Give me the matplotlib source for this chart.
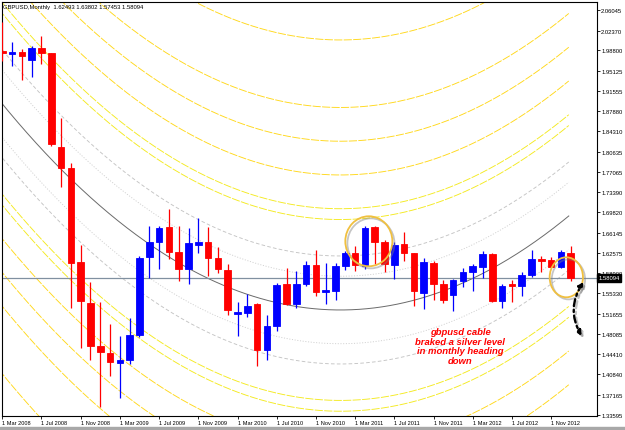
import numpy as np
import pandas as pd
import matplotlib
matplotlib.use('Agg')
import matplotlib.pyplot as plt
import matplotlib.patheffects as pe
from matplotlib.patches import Ellipse, Rectangle

plt.rcParams['font.family'] = ['Liberation Sans', 'DejaVu Sans']

# GBPUSD monthly candles, Mar 2008 .. Jan 2013
months = pd.date_range('2008-03-01', '2013-01-01', freq='MS')
opens = [1.9865, 1.9822, 1.9858, 1.9715, 1.9919, 1.9829, 1.8157, 1.7776, 1.6098, 1.5364,
         1.4594, 1.4458, 1.4290, 1.4344, 1.4791, 1.6177, 1.6446, 1.6714, 1.6272, 1.5973,
         1.6403, 1.6456, 1.6165, 1.5955, 1.5162, 1.5175, 1.5336, 1.4523, 1.4942, 1.5704,
         1.5336, 1.5704, 1.6039, 1.5561, 1.5568, 1.6016, 1.6254, 1.6027, 1.6714, 1.6446,
         1.6045, 1.6415, 1.6254, 1.5533, 1.6075, 1.5699, 1.5502, 1.5758, 1.5919, 1.6009,
         1.6236, 1.5400, 1.5694, 1.5669, 1.5860, 1.6147, 1.6129, 1.5998, 1.62493]
highs = [2.0384, 2.0026, 1.9906, 1.9955, 2.0144, 1.9840, 1.8666, 1.7865, 1.6397, 1.5729,
         1.5371, 1.4983, 1.4773, 1.5085, 1.6195, 1.6743, 1.6732, 1.7042, 1.6743, 1.6696,
         1.6881, 1.6714, 1.6356, 1.6057, 1.5382, 1.5520, 1.5350, 1.5144, 1.5717, 1.5980,
         1.5926, 1.6116, 1.6308, 1.6075, 1.6075, 1.6295, 1.6385, 1.6743, 1.6743, 1.6487,
         1.6456, 1.6625, 1.6260, 1.6165, 1.6116, 1.5776, 1.5789, 1.5986, 1.6057, 1.6295,
         1.6260, 1.5699, 1.5771, 1.5919, 1.6313, 1.6206, 1.6177, 1.6308, 1.63802]
lows = [1.9697, 1.9597, 1.9351, 1.9400, 1.9638, 1.8164, 1.7430, 1.5264, 1.4548, 1.4344,
        1.3492, 1.4047, 1.3653, 1.4267, 1.4745, 1.5801, 1.5968, 1.6147, 1.5758, 1.5699,
        1.6249, 1.5848, 1.5891, 1.5144, 1.4773, 1.5103, 1.4236, 1.4338, 1.4863, 1.5323,
        1.5275, 1.5669, 1.5479, 1.5341, 1.5413, 1.5955, 1.5937, 1.5968, 1.6057, 1.5909,
        1.5789, 1.6106, 1.5311, 1.5252, 1.5418, 1.5359, 1.5221, 1.5640, 1.5579, 1.5801,
        1.5370, 1.5264, 1.5382, 1.5479, 1.5819, 1.5919, 1.5998, 1.5980, 1.57453]
closes = [1.9829, 1.9847, 1.9786, 1.9919, 1.9829, 1.8206, 1.7770, 1.6070, 1.5400, 1.4594,
          1.4487, 1.4308, 1.4338, 1.4791, 1.6165, 1.6446, 1.6702, 1.6277, 1.5973, 1.6438,
          1.6446, 1.6159, 1.5968, 1.5239, 1.5192, 1.5311, 1.4523, 1.4953, 1.5681, 1.5336,
          1.5704, 1.6039, 1.5550, 1.5592, 1.6016, 1.6254, 1.6039, 1.6696, 1.6446, 1.6057,
          1.6403, 1.6249, 1.5579, 1.6098, 1.5699, 1.5418, 1.5771, 1.5909, 1.6016, 1.6236,
          1.5400, 1.5658, 1.5669, 1.5866, 1.6147, 1.6116, 1.6009, 1.6267, 1.58094]

price_ticks = [2.06045, 2.02370, 1.98800, 1.95125, 1.91555, 1.87880, 1.84310, 1.80635,
               1.77065, 1.73390, 1.69820, 1.66145, 1.62575, 1.58900, 1.55330, 1.51655,
               1.48085, 1.44410, 1.40840, 1.37165, 1.33595]
date_tick_idx = list(range(0, 57, 4))
date_tick_labels = [f"1 {months[i]:%b %Y}" for i in date_tick_idx]

# Fibonacci-style arcs: base level and multiples of a unit, shared vertex
arc_base = 1.5234
arc_unit = 0.2417
arc_mults = [0.25, 0.4, 0.67, 0.75, 1.0, 1.25, 1.5, 2.0]
arc_vertex = 34.5
arc_curv = 0.00031
arc_end = 57.8

title = "GBPUSD,Monthly  1.62493 1.63802 1.57453 1.58094"
note = "gbpusd cable\nbraked a silver level\nin monthly heading\ndown"

W, H = 625, 431
fig = plt.figure(figsize=(W / 100, H / 100), dpi=100)
ax = fig.add_axes([1.7 / W, (H - 417) / H, (597 - 1.7) / W, (417 - 3) / H])
ax.set_xlim(-0.06, 60.68)
ax.set_ylim(1.33358, 2.07477)

# arcs
t = np.linspace(-4, arc_end, 400)
arc_style = {
    0.25: dict(color='#cfcfcf', dashes=(1.2, 1.8)),
    0.4: dict(color='#c4c4c4', dashes=(4, 2.5)),
    0.67: dict(color='#f4ea20', dashes=(9, 1.5)),
    0.75: dict(color='#f4ea20', dashes=(9, 1.5)),
}
for m in arc_mults:
    st = arc_style.get(m, dict(color='#ffd81a', dashes=(9, 1.5)))
    for sign in (1, -1):
        level = arc_base + sign * m * arc_unit
        ax.plot(t, level + arc_curv * (t - arc_vertex) ** 2, lw=0.65, zorder=1, **st)
ax.plot(t, arc_base + arc_curv * (t - arc_vertex) ** 2, color='#6a6a6a', lw=0.7, zorder=1)

# last price line
ax.axhline(closes[-1], color='#8090a0', lw=0.9, zorder=2)

# candles
x = np.arange(len(opens))
o = np.array(opens)
c = np.array(closes)
cols = np.where(c >= o, '#0000ff', '#ff0000')
ax.vlines(x, lows, highs, colors=cols, lw=0.9, zorder=3)
ax.bar(x, c - o, bottom=o, width=0.66, color=cols, edgecolor=cols, linewidth=0.6, zorder=4)

# annotations
shadow = [pe.SimpleLineShadow(offset=(1.5, -1.5), shadow_color='#808080', alpha=0.45), pe.Normal()]
e1 = Ellipse((37.4, 1.6464), 4.8, 0.0895, fill=False, edgecolor='#f0c040', lw=1.3, zorder=6)
e1.set_path_effects(shadow)
ax.add_patch(e1)
e2 = Ellipse((57.55, 1.5819), 3.4, 0.0716, fill=False, edgecolor='#f0c040', lw=1.3, zorder=6)
e2.set_path_effects(shadow)
ax.add_patch(e2)
ax.annotate('', xy=(59.1, 1.4768), xytext=(59.3, 1.5735),
            arrowprops=dict(arrowstyle='<|-|>', color='black', lw=1.7, linestyle=(0, (3, 1.5, 1, 1.5)),
                            connectionstyle='arc3,rad=0.3', mutation_scale=7, shrinkA=0, shrinkB=0,
                            path_effects=shadow),
            zorder=7, annotation_clip=False)
ax.text(46.7, 1.459, note, color='#ff0000', fontsize=6.8, fontweight='bold', fontstyle='italic',
        ha='center', va='center', linespacing=1.12, zorder=8)

# axes styling
for s in ax.spines.values():
    s.set_color('black')
    s.set_linewidth(0.8)
ax.yaxis.tick_right()
ax.set_yticks(price_ticks)
ax.set_yticklabels([f"{v:.5f}" for v in price_ticks])
ax.set_xticks(date_tick_idx)
ax.set_xticklabels(date_tick_labels, ha='left')
ax.tick_params(axis='y', length=2.2, width=0.6, pad=0.8, labelsize=4.2)
ax.tick_params(axis='x', length=2.2, width=0.6, pad=0.5, labelsize=4.1)

ax.text(1.002, closes[-1], f"{closes[-1]:.5f}", transform=ax.get_yaxis_transform(), color='white',
        fontsize=4.2, ha='left', va='center', zorder=10, clip_on=False,
        bbox=dict(boxstyle='square,pad=0.25', fc='black', ec='black'))

fig.text(3.3 / W, 1 - 7.5 / H, title, fontsize=4.2, ha='left', va='center')
fig.add_artist(Rectangle((0, 0), 1, 3 / H, transform=fig.transFigure, color='#a8a8a8'))

fig.savefig('out.png', dpi=100)
